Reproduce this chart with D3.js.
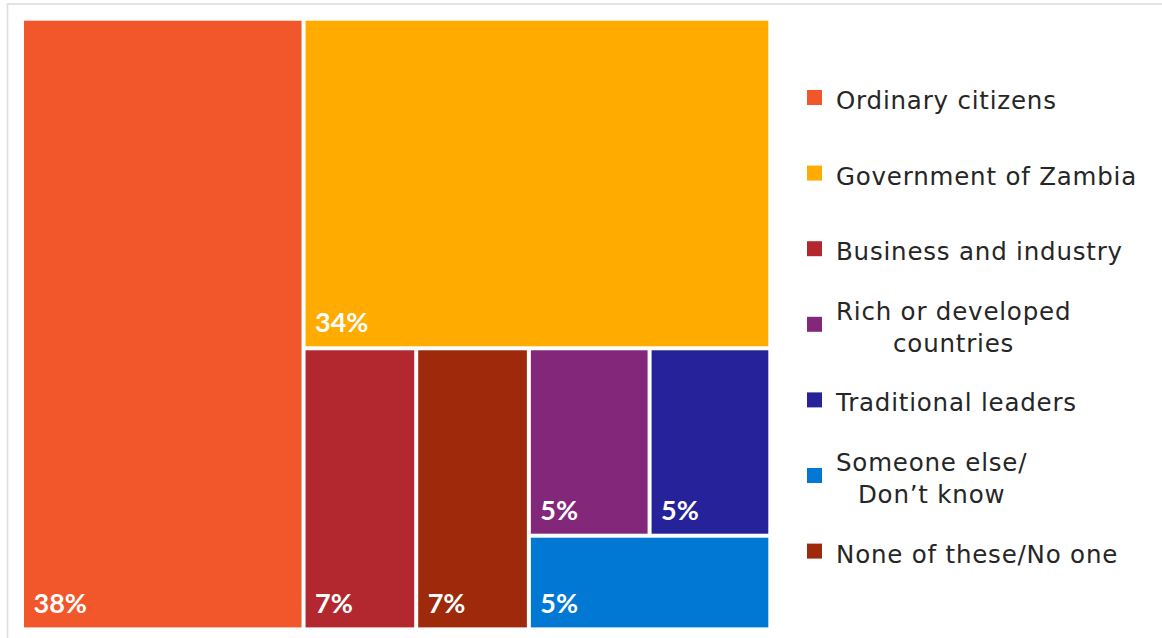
<!DOCTYPE html>
<html>
<head>
<meta charset="utf-8">
<script src="https://cdn.jsdelivr.net/npm/d3@7"></script>
<style>
  html, body { margin: 0; padding: 0; background: #fff; }
  svg { display: block; }
</style>
</head>
<body>
<svg id="chart" width="1162" height="638"></svg>
<script>
// ---- data (legend order) ----
const categories = [
  "Ordinary citizens",
  "Government of Zambia",
  "Business and industry",
  "Rich or developed\ncountries",
  "Traditional leaders",
  "Someone else/\nDon’t know",
  "None of these/No one"
];
const values = [38, 34, 7, 5, 5, 5, 7];
const valueLabels = ["38%", "34%", "7%", "5%", "5%", "5%", "7%"];
const colors = ["#F2572B", "#FFAB00", "#B3282F", "#83277A", "#25229A", "#0078D4", "#9E290B"];

// ---- layout nesting (indices into the arrays above) ----
const leaf = i => ({ idx: i, value: values[i] });
const tree = {
  children: [
    leaf(0),
    { children: [
      leaf(1),
      { children: [
        leaf(2),
        leaf(6),
        { children: [
          { children: [leaf(3), leaf(4)] },
          leaf(5)
        ]}
      ]}
    ]}
  ]
};

const svg = d3.select("#chart");

// frame
svg.append("rect")
  .attr("x", 7.5).attr("y", 4)
  .attr("width", 1300).attr("height", 800)
  .attr("fill", "none")
  .attr("stroke", "#dedede")
  .attr("stroke-width", 1.6);

const tmX = 24, tmY = 20.7, tmW = 744.3, tmH = 606.7;

const root = d3.hierarchy(tree).sum(d => d.value || 0);
d3.treemap()
  .tile(d3.treemapSliceDice)
  .size([tmW, tmH])
  .paddingInner(4)
  .round(false)(root);

const g = svg.append("g").attr("transform", `translate(${tmX},${tmY})`);
const cells = g.selectAll("g.cell").data(root.leaves()).join("g").attr("class", "cell");

cells.append("rect")
  .attr("x", d => d.x0).attr("y", d => d.y0)
  .attr("width", d => d.x1 - d.x0).attr("height", d => d.y1 - d.y0)
  .attr("fill", d => colors[d.data.idx]);

cells.append("text")
  .attr("x", d => d.x0 + 9.5)
  .attr("y", d => d.y1 - 14)
  .attr("fill", "#fff")
  .attr("font-family", "Lato, 'Open Sans', sans-serif")
  .attr("font-weight", "bold")
  .attr("font-size", 27)
  .text(d => valueLabels[d.data.idx]);

// ---- legend ----
const legY0 = 97.5, legStep = 75.6, sqX = 807, txtX = 836, lineH = 31.7;
const leg = svg.append("g");
categories.forEach((c, i) => {
  const cy = legY0 + i * legStep;
  leg.append("rect")
    .attr("x", sqX).attr("y", cy - 7.5)
    .attr("width", 15).attr("height", 15)
    .attr("fill", colors[i]);
  const lines = c.split("\n");
  const texts = lines.map((ln, k) => leg.append("text")
    .attr("y", cy + 11.5 + (k - (lines.length - 1) / 2) * lineH)
    .attr("fill", "#262626")
    .attr("font-family", "'DejaVu Sans', sans-serif")
    .attr("font-size", 24.5)
    .attr("letter-spacing", 0.8)
    .text(ln));
  if (lines.length === 1) {
    texts[0].attr("x", txtX);
  } else {
    const widths = texts.map(t => t.node().getComputedTextLength());
    const mx = d3.max(widths);
    texts.forEach(t => t.attr("x", txtX + mx / 2).attr("text-anchor", "middle"));
  }
});
</script>
</body>
</html>
